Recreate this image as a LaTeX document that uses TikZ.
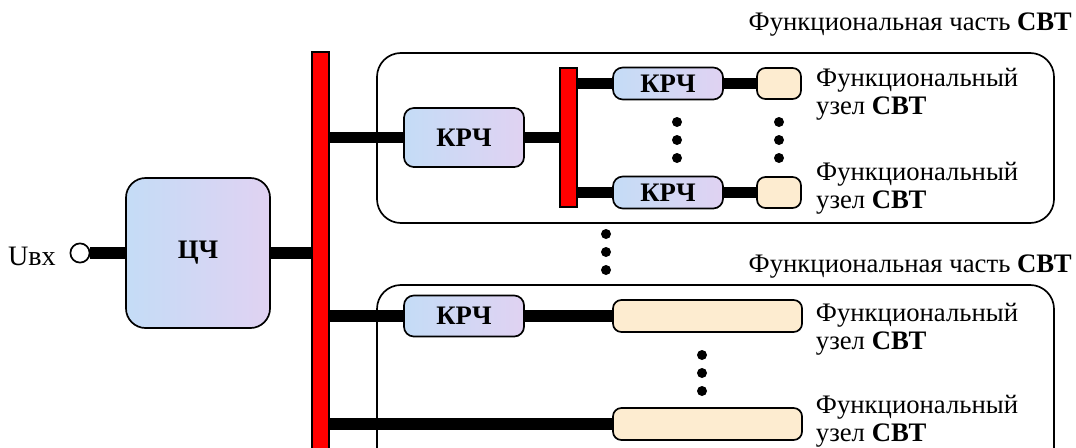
\documentclass[tikz,border=0pt]{standalone}
\usepackage{fontspec}
\setmainfont{Liberation Serif}
\usetikzlibrary{positioning}
\definecolor{shinared}{RGB}{255,0,0}
\definecolor{uzelfill}{RGB}{253,236,208}
\definecolor{blokblue}{RGB}{196,220,246}
\definecolor{bloklila}{RGB}{224,210,242}
\begin{document}
\begin{tikzpicture}[x=0.025cm,y=-0.025cm,
every node/.style={font=\fontsize{19}{20}\selectfont},
blok/.style={draw,line width=1.2pt,rounded corners=7pt,left color=blokblue,right color=bloklila,
  font=\fontsize{19}{20}\selectfont\bfseries,inner sep=0pt},
uzel/.style={draw,line width=1.2pt,rounded corners=6pt,fill=uzelfill,inner sep=0pt},
shina/.style={draw,line width=1pt,fill=shinared,inner sep=0pt,minimum width=0.425cm},
chast/.style={line width=1.2pt,rounded corners=17pt},
wire/.style={line width=8pt},
podpis/.style={align=left,inner sep=0pt}
]
\useasboundingbox (0,0) rectangle (1076,447);
\clip (0,0) rectangle (1076,447);

% functional parts
\draw[chast] (377,53) rectangle (1054,223);
\draw[chast] (377,285) rectangle (1054,475);
\node[anchor=base east,inner sep=0pt] (chast1) at (1072,30) {Функциональная часть \textbf{СВТ}};
\node[anchor=base east,inner sep=0pt] (chast2) at (1072,272) {Функциональная часть \textbf{СВТ}};

% input
\node[anchor=east,inner sep=0pt,font=\fontsize{20}{20}\selectfont] (uvh) at (56,256) {Uвх};
\node[circle,draw,line width=1.2pt,fill=white,minimum size=0.48cm,inner sep=0pt] (vhod) at (80,253) {};
\node[blok,minimum width=3.6cm,minimum height=3.75cm,rounded corners=14pt] (cc) at (198,253) {ЦЧ};
\node[shina,minimum height=10.45cm] (bus) at (320.5,261) {};

% first part
\node[blok,minimum width=3cm,minimum height=1.475cm] (k1) at (464,137.5) {КРЧ};
\node[shina,minimum height=3.475cm] (sbus) at (568.5,137.5) {};
\node[blok,minimum width=2.75cm,minimum height=0.8cm] (k11) at (668,83.5) {КРЧ};
\node[blok,minimum width=2.75cm,minimum height=0.8cm] (k12) at (668,192.5) {КРЧ};
\node[uzel,minimum width=1.1cm,minimum height=0.775cm] (fu11) at (779,83.5) {};
\node[uzel,minimum width=1.1cm,minimum height=0.775cm] (fu12) at (779,192.5) {};
\node[podpis,right=0.35cm of fu11,yshift=-0.26cm] (t11) {Функциональный\\узел \textbf{СВТ}};
\node[podpis,right=0.35cm of fu12,yshift=0.1cm] (t12) {Функциональный\\узел \textbf{СВТ}};

% second part
\node[blok,minimum width=3cm,minimum height=1.025cm] (k2) at (464,316) {КРЧ};
\node[uzel,minimum width=4.725cm,minimum height=0.8cm] (fu21) at (707.5,316) {};
\node[uzel,minimum width=4.725cm,minimum height=0.8cm] (fu22) at (707.5,424) {};
\node[podpis,right=0.32cm of fu21,yshift=-0.33cm] (t21) {Функциональный\\узел \textbf{СВТ}};
\node[podpis,right=0.32cm of fu22,yshift=0.06cm] (t22) {Функциональный\\узел \textbf{СВТ}};

% links
\draw[wire] (vhod.east) -- (vhod.east -| cc.west);
\draw[wire] (cc.east) -- (cc.east -| bus.west);
\draw[wire] (bus.east |- k1.west) -- (k1.west);
\draw[wire] (k1.east) -- (k1.east -| sbus.west);
\draw[wire] (sbus.east |- k11.west) -- (k11.west);
\draw[wire] (sbus.east |- k12.west) -- (k12.west);
\draw[wire] (k11.east) -- (fu11.west);
\draw[wire] (k12.east) -- (fu12.west);
\draw[wire] (bus.east |- k2.west) -- (k2.west);
\draw[wire] (k2.east) -- (fu21.west);
\draw[wire] (bus.east |- fu22.west) -- (fu22.west);

% dots
\foreach \x/\y in {677/122,779/122,606/234,702/355}{
  \fill (\x,\y) circle (5);
  \fill (\x,\y+18) circle (5);
  \fill (\x,\y+36) circle (5);
}
\end{tikzpicture}
\end{document}
